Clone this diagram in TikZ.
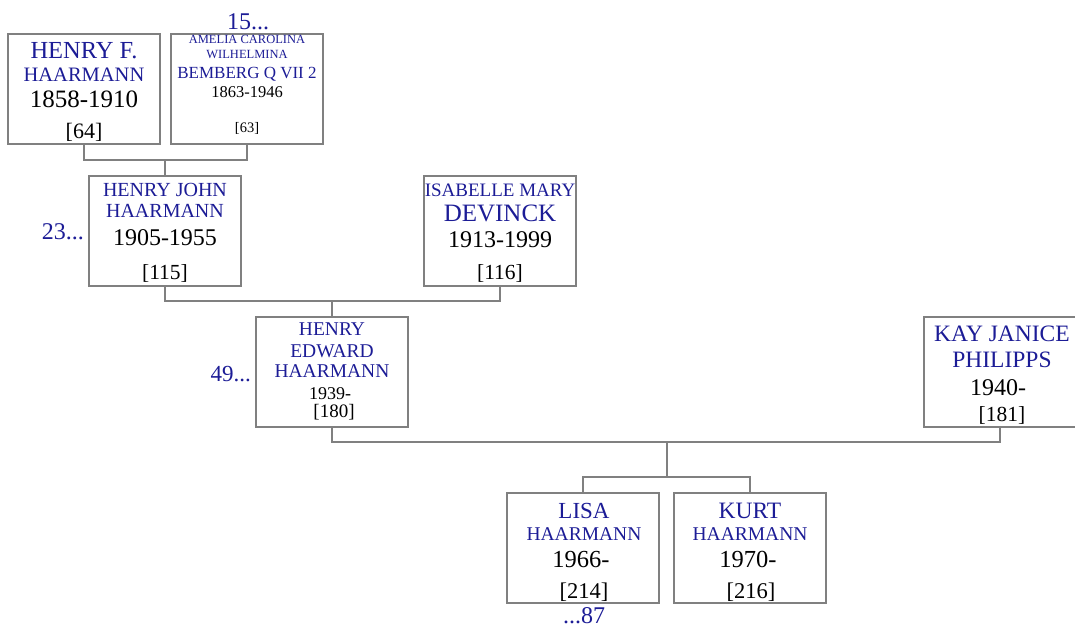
\documentclass[tikz,border=0pt]{standalone}
\usepackage{fontspec}
\setmainfont{Liberation Serif}
\definecolor{namecol}{RGB}{28,28,150}
\definecolor{boxgray}{RGB}{128,128,128}
\tikzset{
	person/.style={draw=boxgray, line width=1.2pt, minimum width=152pt, minimum height=110pt, inner sep=0pt},
	link/.style={draw=boxgray, line width=1.2pt},
	nm/.style={text=namecol, anchor=base, inner sep=0pt, font=\fontsize{#1}{#1}\selectfont},
	dt/.style={text=black, anchor=base, inner sep=0pt, font=\fontsize{#1}{#1}\selectfont},
	ref/.style={text=namecol, inner sep=0pt, font=\fontsize{#1}{#1}\selectfont}
}
\begin{document}
\begin{tikzpicture}[x=1pt, y=-1pt]
		\useasboundingbox (0,0) rectangle (1075,627);

		\node (henryf) [person] at (84,89) {};
		\node (amelia) [person] at (247,89) {};
		\node (henryjohn) [person] at (165,231) {};
		\node (isabelle) [person] at (500,231) {};
		\node (henryedward) [person] at (332,372) {};
		\node (kay) [person] at (1000,372) {};
		\node (lisa) [person] at (583,548) {};
		\node (kurt) [person] at (750,548) {};

		\node (henryf-a) [nm=24.5] at (84,58) {HENRY F.};
		\node (henryf-b) [nm=20.5] at (84,81) {HAARMANN};
		\node (henryf-c) [dt=25] at (84,107) {1858-1910};
		\node (henryf-d) [dt=22] at (84,138) {[64]};

		\node (amelia-a) [nm=12.5] at (247,43) {AMELIA CAROLINA};
		\node (amelia-b) [nm=12.5] at (247,58) {WILHELMINA};
		\node (amelia-c) [nm=17] at (247,78) {BEMBERG Q VII 2};
		\node (amelia-d) [dt=16.5] at (247,97) {1863-1946};
		\node (amelia-e) [dt=14.5] at (247,132) {[63]};

		\node (henryjohn-a) [nm=20] at (165,196) {HENRY JOHN};
		\node (henryjohn-b) [nm=20] at (165,217) {HAARMANN};
		\node (henryjohn-c) [dt=24] at (165,245) {1905-1955};
		\node (henryjohn-d) [dt=21.5] at (165,279) {[115]};

		\node (isabelle-a) [nm=19] at (500,196) {ISABELLE MARY};
		\node (isabelle-b) [nm=25] at (500,221) {DEVINCK};
		\node (isabelle-c) [dt=24] at (500,247) {1913-1999};
		\node (isabelle-d) [dt=21.5] at (500,279) {[116]};

		\node (henryedward-a) [nm=19.5] at (332,335) {HENRY};
		\node (henryedward-b) [nm=19.5] at (332,357) {EDWARD};
		\node (henryedward-c) [nm=19.5] at (332,377) {HAARMANN};
		\node (henryedward-d) [dt=18] at (330,399) {1939-};
		\node (henryedward-e) [dt=19] at (334,417) {[180]};

		\node (kay-a) [nm=23.5] at (1002,341) {KAY JANICE};
		\node (kay-b) [nm=23.5] at (1002,367) {PHILIPPS};
		\node (kay-c) [dt=24] at (998,395) {1940-};
		\node (kay-d) [dt=21.5] at (1002,421) {[181]};

		\node (lisa-a) [nm=23] at (584,518) {LISA};
		\node (lisa-b) [nm=19.5] at (584,540) {HAARMANN};
		\node (lisa-c) [dt=24.5] at (581,567) {1966-};
		\node (lisa-d) [dt=22.5] at (584,598) {[214]};

		\node (kurt-a) [nm=23.5] at (750,518) {KURT};
		\node (kurt-b) [nm=19.5] at (750,540) {HAARMANN};
		\node (kurt-c) [dt=24.5] at (748,567) {1970-};
		\node (kurt-d) [dt=22.5] at (751,598) {[216]};

		\node (amelia-up) [ref=24, anchor=base] at (248,29) {15...};
		\node (henryjohn-up) [ref=24, anchor=base east] at (84,239) {23...};
		\node (henryedward-up) [ref=23, anchor=base east] at (251,381) {49...};
		\node (lisa-down) [ref=24, anchor=base] at (584,623) {...87};

		\coordinate (c1) at (165,160);
		\coordinate (c2) at (332,301);
		\coordinate (c3) at (667,442);
		\coordinate (s3) at (667,477);

		\draw [link] (henryf.south) |- (c1) -| (amelia.south);
		\draw [link] (c1) -- (henryjohn.north);
		\draw [link] (henryjohn.south) |- (c2) -| (isabelle.south);
		\draw [link] (c2) -- (henryedward.north);
		\draw [link] (henryedward.south) |- (c3) -| (kay.south);
		\draw [link] (c3) -- (s3);
		\draw [link] (lisa.north) |- (s3) -| (kurt.north);
	\end{tikzpicture}
\end{document}
